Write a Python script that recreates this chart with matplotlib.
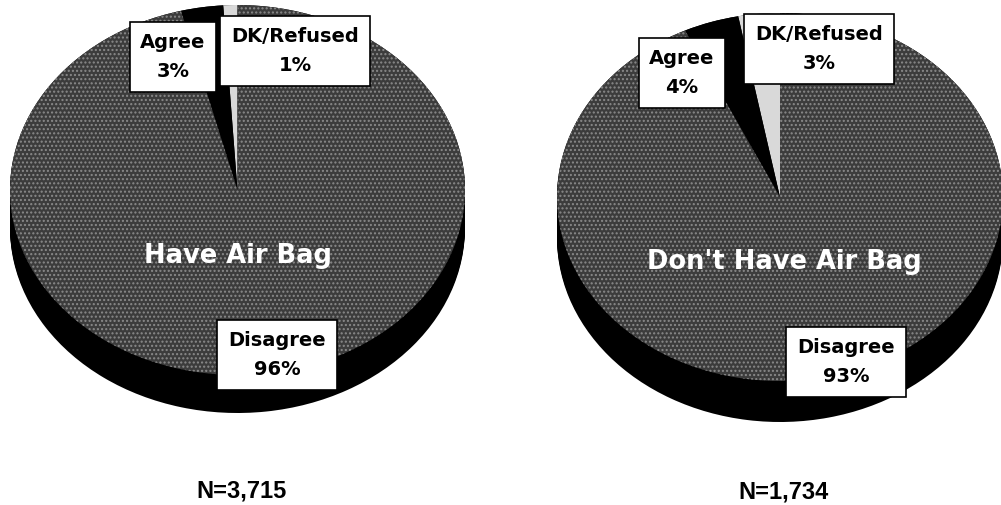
import matplotlib
matplotlib.use("Agg")
import matplotlib.pyplot as plt
import numpy as np

W, H = 1001, 505

# data
SEGMENTS = ["DK/Refused", "Agree", "Disagree"]
have_bag = [1, 3, 96]
no_bag = [3, 4, 93]
GROUPS = ["Have Air Bag", "Don't Have Air Bag"]
N_LABELS = ["N=3,715", "N=1,734"]

COLORS = ["#d9d9d9", "#000000", "#3c3c3c"]
HATCHES = ["", "", "...."]

fig = plt.figure(figsize=(W / 100, H / 100), dpi=100)


def px(x, y):
    # pixel position -> figure fraction
    return x / W, 1 - y / H


def draw_pie(values, left, right, top, face_bottom, rim_bottom):
    b = (face_bottom - top) / 2
    depth = (rim_bottom - face_bottom) / b
    ax = fig.add_axes([left / W, 1 - rim_bottom / H, (right - left) / W, (rim_bottom - top) / H])
    # side of the 3d pie
    for k in np.linspace(depth, 0, 25):
        ax.pie(values, colors=["black"] * len(values), startangle=90, center=(0, -k),
               wedgeprops=dict(linewidth=0))
    # top face
    ax.pie(values, colors=COLORS, startangle=90, hatch=HATCHES,
           wedgeprops=dict(linewidth=0, edgecolor="#8a8a8a"))
    ax.set_aspect("auto")
    ax.set_xlim(-1, 1)
    ax.set_ylim(-1 - depth, 1)
    ax.axis("off")
    for p in ax.patches:
        p.set_clip_on(False)
    return ax


draw_pie(have_bag, 10, 465, 5, 375, 413)
draw_pie(no_bag, 557, 1003, 13, 381, 422)

box = dict(boxstyle="square,pad=0.55", fc="white", ec="black", lw=1.2)
lab_font = dict(family="DejaVu Sans", weight="bold", fontsize=14, ha="center", va="center",
                linespacing=1.65, multialignment="center")

label_pos = [
    {"DK/Refused": (295, 51), "Agree": (173, 57), "Disagree": (277, 355)},
    {"DK/Refused": (819, 49), "Agree": (682, 73), "Disagree": (846, 362)},
]
for vals, pos in zip([have_bag, no_bag], label_pos):
    for name, v in zip(SEGMENTS, vals):
        x, y = px(*pos[name])
        fig.text(x, y, f"{name}\n{v}%", bbox=box, **lab_font)

for name, (x, y) in zip(GROUPS, [(238, 256), (784, 262)]):
    fx, fy = px(x, y)
    fig.text(fx, fy, name, color="white", family="DejaVu Sans", weight="bold",
             fontsize=18.5, ha="center", va="center")

for name, (x, y) in zip(N_LABELS, [(242, 491), (783, 492)]):
    fx, fy = px(x, y)
    fig.text(fx, fy, name, family="Liberation Sans", weight="bold",
             fontsize=17, ha="center", va="center")

fig.savefig("out.png", dpi=100)
